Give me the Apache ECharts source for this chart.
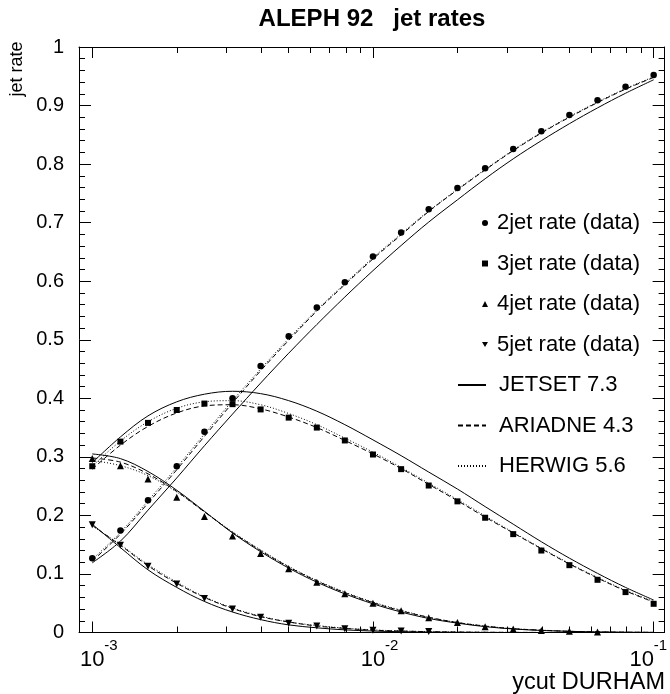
<!DOCTYPE html>
<html><head><meta charset="utf-8">
<script src="https://cdn.jsdelivr.net/npm/echarts@6/dist/echarts.min.js"></script>
<style>html,body{margin:0;padding:0;background:#fff}#c{width:670px;height:694px}</style>
</head><body><div id="c"></div>
<script>
// ycut values (data points every 0.1 decade)
const ycut = [0.001, 0.00126, 0.00158, 0.002, 0.00251, 0.00316, 0.00398, 0.00501, 0.00631, 0.00794, 0.01, 0.0126, 0.0158, 0.02, 0.0251, 0.0316, 0.0398, 0.0501, 0.0631, 0.0794, 0.1];
// measured jet rates
const data2 = [0.127,0.174,0.226,0.284,0.343,0.400,0.455,0.506,0.555,0.598,0.642,0.683,0.723,0.759,0.793,0.826,0.856,0.884,0.909,0.932,0.952];
const data3 = [0.284,0.326,0.358,0.380,0.391,0.390,0.381,0.367,0.350,0.328,0.304,0.279,0.251,0.224,0.196,0.168,0.140,0.115,0.090,0.069,0.049];
const data4 = [0.297,0.285,0.262,0.231,0.198,0.165,0.135,0.109,0.086,0.066,0.050,0.037,0.025,0.017,0.010,0.006,0.0035,0.002,0.001];
const data5 = [0.184,0.149,0.113,0.083,0.058,0.040,0.026,0.016,0.011,0.0065,0.004,0.0025,0.0015];
// JETSET 7.3
const jet2 = [0.119,0.156,0.209,0.264,0.319,0.373,0.426,0.477,0.526,0.573,0.618,0.661,0.701,0.739,0.775,0.809,0.840,0.869,0.896,0.921,0.944];
const jet3 = [0.290,0.334,0.370,0.394,0.407,0.412,0.408,0.396,0.378,0.355,0.329,0.302,0.274,0.245,0.215,0.185,0.155,0.127,0.101,0.077,0.0555];
const jet4 = [0.305,0.297,0.275,0.243,0.207,0.170,0.138,0.110,0.086,0.066,0.049,0.035,0.024,0.016,0.010,0.006,0.0035,0.002,0.001,0.0005,0.0002];
const jet5 = [0.185,0.145,0.107,0.077,0.053,0.035,0.022,0.013,0.008,0.0045,0.0025,0.0013,0.0007,0.0003,0.0001,0,0,0,0,0,0];
// ARIADNE 4.3
const ari2 = [0.122,0.168,0.221,0.278,0.335,0.392,0.447,0.499,0.549,0.594,0.638,0.679,0.719,0.756,0.790,0.823,0.853,0.880,0.905,0.928,0.948];
const ari3 = [0.279,0.320,0.352,0.375,0.387,0.389,0.382,0.368,0.350,0.328,0.305,0.280,0.253,0.225,0.197,0.170,0.143,0.117,0.093,0.071,0.052];
const ari4 = [0.298,0.291,0.271,0.241,0.206,0.171,0.140,0.112,0.088,0.068,0.051,0.037,0.026,0.017,0.011,0.0065,0.004,0.002,0.001,0.0005,0.0002];
const ari5 = [0.183,0.149,0.114,0.084,0.060,0.041,0.027,0.018,0.011,0.007,0.004,0.0025,0.0014,0.0008,0.0004,0.0002,0.0001,0,0,0,0];
// HERWIG 5.6
const her2 = [0.125,0.171,0.225,0.282,0.339,0.396,0.450,0.502,0.551,0.596,0.640,0.681,0.720,0.757,0.791,0.824,0.854,0.881,0.906,0.929,0.949];
const her3 = [0.284,0.327,0.360,0.383,0.394,0.396,0.389,0.374,0.355,0.332,0.308,0.282,0.255,0.227,0.199,0.171,0.144,0.118,0.094,0.072,0.053];
const her4 = [0.294,0.285,0.268,0.240,0.206,0.172,0.141,0.113,0.089,0.069,0.052,0.038,0.026,0.017,0.011,0.0065,0.004,0.002,0.001,0.0005,0.0002];
const her5 = [0.182,0.150,0.116,0.086,0.061,0.042,0.028,0.018,0.012,0.0075,0.0045,0.0027,0.0015,0.0008,0.0004,0.0002,0.0001,0,0,0,0];
// axis ticks
const majorTicks = [0.001, 0.01, 0.1];
const minorTicks = [0.002,0.003,0.004,0.005,0.006,0.007,0.008,0.009,0.02,0.03,0.04,0.05,0.06,0.07,0.08,0.09];
const xRange = [0.000897, 0.1094];
const yTickLabels = ['0','0.1','0.2','0.3','0.4','0.5','0.6','0.7','0.8','0.9','1'];

const FONT = 'Liberation Sans';
const lg = Math.log10;
const pts = arr => arr.map((v, i) => [lg(ycut[i]), v]);
const majX = majorTicks.map(lg), minX = minorTicks.map(lg);
const XMIN = lg(xRange[0]), XMAX = lg(xRange[1]);
const K = '#000';

function xAx(pos, ticks, len, showLine, label) {
  return {
    type: 'value', position: pos, min: XMIN, max: XMAX,
    splitLine: {show: false},
    axisLine: {show: showLine, onZero: false, lineStyle: {color: K, width: 1}},
    axisTick: {show: true, inside: true, length: len, customValues: ticks, lineStyle: {color: K, width: 1}},
    axisLabel: label || {show: false}
  };
}
function yAx(pos, showLabel) {
  return {
    type: 'value', position: pos, min: 0, max: 1, interval: 0.1,
    splitLine: {show: false},
    axisLine: {show: true, onZero: false, lineStyle: {color: K, width: 1}},
    axisTick: {show: true, inside: true, length: 12, lineStyle: {color: K, width: 1}},
    minorTick: {show: true, splitNumber: 5, length: 6, lineStyle: {color: K, width: 1}},
    axisLabel: showLabel ? {show: true, margin: 15, fontSize: 20, color: K, fontFamily: FONT,
      formatter: v => yTickLabels[Math.round(v * 10)]} : {show: false}
  };
}

const series = [
  {name: '2jet rate (data)', type: 'scatter', symbol: 'circle', symbolSize: 6.5, data: pts(data2)},
  {name: '3jet rate (data)', type: 'scatter', symbol: 'rect', symbolSize: 6, data: pts(data3)},
  {name: '4jet rate (data)', type: 'scatter', symbol: 'triangle', symbolSize: 7, data: pts(data4)},
  {name: '5jet rate (data)', type: 'scatter', symbol: 'triangle', symbolRotate: 180, symbolSize: 7, data: pts(data5)}
].map(s => Object.assign(s, {itemStyle: {color: K, opacity: 1}, z: 5}));

const models = [
  {name: 'JETSET 7.3', arrs: [jet2, jet3, jet4, jet5], type: 'solid'},
  {name: 'ARIADNE 4.3', arrs: [ari2, ari3, ari4, ari5], type: [5, 3]},
  {name: 'HERWIG 5.6', arrs: [her2, her3, her4, her5], type: [1, 2]}
];
models.forEach(m => m.arrs.forEach(a => series.push({
  name: m.name, type: 'line', data: pts(a), smooth: 0.35, showSymbol: false, symbol: 'none',
  lineStyle: {color: K, width: 1, type: m.type}, itemStyle: {color: K}
})));

const dataLegend = [
  {name: series[0].name, icon: 'circle'},
  {name: series[1].name, icon: 'rect'},
  {name: series[2].name, icon: 'triangle'},
  {name: series[3].name, icon: 'path://M0,0L20,0L10,17Z'}
];

const chart = echarts.init(document.getElementById('c'), null, {renderer: 'canvas'});
chart.setOption({
  animation: false,
  backgroundColor: '#fff',
  textStyle: {fontFamily: FONT, color: K},
  title: {text: 'ALEPH 92   jet rates', left: 372, top: 7, textAlign: 'center', padding: 0,
    textStyle: {fontSize: 24, fontWeight: 'bold', color: K, fontFamily: FONT}},
  grid: {left: 79, right: 5, top: 47, bottom: 61.5, containLabel: false},
  xAxis: [
    xAx('bottom', majX, 11, true, {show: true, customValues: majX, align: 'center', margin: 16, color: K,
      formatter: v => v > -1.5 ? '{r|10}' : '{c|10}',
      rich: {c: {fontSize: 22, fontFamily: FONT, color: K},
             r: {fontSize: 22, fontFamily: FONT, color: K, padding: [0, 24, 0, 0]}}}),
    xAx('bottom', minX, 6, false, {show: true, customValues: majX, align: 'left', margin: 6, color: K,
      formatter: v => (v > -1.5 ? '{r|' : '{c|') + '-' + Math.round(-v) + '}',
      rich: {c: {fontSize: 15, fontFamily: FONT, color: K, padding: [0, 0, 0, 12]},
             r: {fontSize: 15, fontFamily: FONT, color: K}}}),
    xAx('top', majX, 11, true, null),
    xAx('top', minX, 6, false, null)
  ],
  yAxis: [yAx('left', true), yAx('right', false)],
  legend: [
    {data: dataLegend, orient: 'vertical', left: 482, top: 211, padding: 0,
      itemWidth: 6, itemHeight: 6, itemGap: 16.5, selectedMode: false,
      itemStyle: {color: K, borderWidth: 0},
      textStyle: {fontSize: 22, lineHeight: 24, color: K, fontFamily: FONT, padding: [0, 0, 0, 4]}},
    {data: models.map(m => m.name), orient: 'vertical', left: 457, top: 373, padding: 0,
      itemWidth: 28, itemHeight: 10, itemGap: 16.5, selectedMode: false,
      itemStyle: {opacity: 0, color: 'rgba(0,0,0,0)', borderWidth: 0},
      textStyle: {fontSize: 22, lineHeight: 24, color: K, fontFamily: FONT, padding: [0, 0, 0, 8]}}
  ],
  graphic: [
    {type: 'text', x: 17, y: 69, rotation: Math.PI / 2,
      style: {text: 'jet rate', fontSize: 18, fontFamily: FONT, fill: K, align: 'center', verticalAlign: 'middle'}},
    {type: 'text', x: 665, y: 683,
      style: {text: 'ycut DURHAM', fontSize: 23.5, fontFamily: FONT, fill: K, align: 'right', verticalAlign: 'middle'}}
  ],
  series: series
});
</script></body></html>
